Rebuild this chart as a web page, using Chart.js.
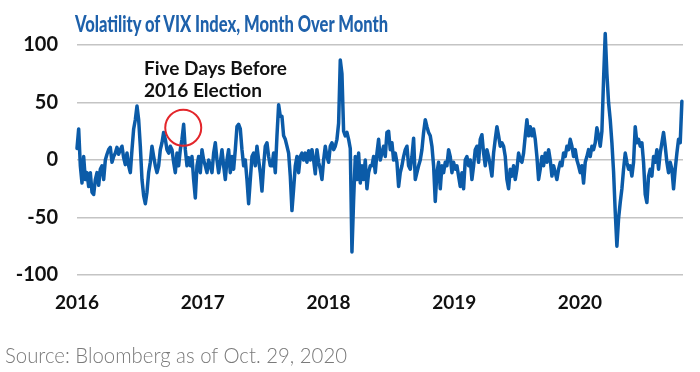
<!DOCTYPE html>
<html>
<head>
<meta charset="utf-8">
<script src="https://cdn.jsdelivr.net/npm/chart.js@4.4.1/dist/chart.umd.min.js"></script>
<style>
html,body{margin:0;padding:0;background:#fff;}
#wrap{position:relative;width:700px;height:372px;overflow:hidden;background:#fff;}
#c{position:absolute;left:0;top:0;}
.txt{position:absolute;left:0;top:0;white-space:nowrap;transform-origin:0 0;font-family:Lato,"Open Sans",sans-serif;line-height:1;}
#title{font-weight:900;font-size:22px;color:#1e61ab;}
.ann{font-weight:700;font-size:19px;color:#111;}
#source{font-weight:300;font-size:22px;color:#7a7a7a;}
</style>
</head>
<body>
<div id="wrap">
  <canvas id="c" width="700" height="372"></canvas>
  <div id="title" class="txt">Volatility of VIX Index, Month Over Month</div>
  <div id="ann1" class="txt ann">Five Days Before</div>
  <div id="ann2" class="txt ann">2016 Election</div>
  <div id="source" class="txt">Source: Bloomberg as of Oct. 29, 2020</div>
</div>
<script>
// ---- data (VIX month-over-month %, ~every 5 days) ----
const vix2016 = [10, 27, -5, -20, 3, -17, -11, -23, -11, -28, -30, -17, -11, -22, -8, -5, -17, 0, 5, 9,
  11, -2, 3, 6, 11, 5, 9, 12, 2, -4, 6, -5, -11, 9, 27, 35, 47, 35, 12, -17,
  -31, -38, -28, -11, -2, 12, 3, -5, -11, -5, 9, 15, 24, 18, 9, 6, 12,
  9, -2, -11, 6, -5, 9, 18, 31, 9, -5, 2, -5, 3, -17, -33, -5, 3, -11, 9];
const vix2017 = [0, -5, -11, 0, -5, -11, 6, 15, 0, -11, -2, 9, -5, -17, 0, 9, -11, 3, -8, 9,
  29, 31, 27, 9, -5, 0, -17, -38, -17, 3, 6, -5, 12, 0, -11, -27, -5, 12, 15, 3, -5,
  -5, 6, -11, 21, 48, 38, 38, 21, 18, 12, 6, -14, -44, -25, -5, 3, -11, 3, 6, 0,
  6, -2, 8, 0, 9, 0, -12, 9, -2, -8, -17, 0, 12, 3];
const vix2018 = [-2, 12, 15, 9, 12, 18, 32, 87, 75, 25, 21, 24, 18, 10, -80, -35, 3, -17, 6, -20,
  -5, -17, 0, -25, -11, -5,
  -5, 3, -11, 6, 18, 0, 6, 12, 3, 24, 25, 9, 15, 0, 6, -2, -23, -11, -5, 3,
  9, 12, -5, -8, 3, 19, -17, -11, -5, 0, 9, 24, 35, 29, 24, 21, 12, -5, -36, -11,
  -2, -25, -5, -11, -2, -5, 9, 3, -11, -2];
const vix2019 = [-8, -5, -14, -23, -11, -25, 0, 3, -5, 0,
  -17, -5, 9, 12, -2, 18, 22, 6, -5, 9, 3, -5, -14, 6, 18, 29, 21, 12, 15, 12,
  3, -17, -25, -8, -14, -5, -17, -8, 6, 0, -2, 6, 21, 35, 21, 29, 21, 27, 18, 3,
  -17, -8, 3, -5, 6, -2, 9, 0, -14, -5, -11, -17, -8, -2, -5, 6, 3, 12, 9, 18,
  12, 3, 9, 0, -5];
const vix2020 = [-11, -5, -20, -2, 3, 9, 3, 12, 9, 15, 28, 21, 12, 25, 70, 110, 75, 50, 35, 15,
  -10, -45, -75, -51, -37, -25, -8, 6, -2, -8, -5, -14, -2, 29, 15, 18, 12, 15, -2, -30,
  -37, -14, -8, -14, 3, -2, 9, -8, 6, 15, 24, 12, -2, -11, -2, -8, -25, -8, 6, 18, 15, 51];
const startYear = 2016;            // first observation, Jan 2016
const obsPerYear = 75.45;          // observations are about 4.85 days apart
const endYear = 2020.82;           // Oct. 29, 2020
const xTickYears = [2016, 2017, 2018, 2019, 2020];
const yTickValues = [-100, -50, 0, 50, 100];
const electionMark = {x: 2016.845, y: 28};   // five days before 2016 election

const series = [].concat(vix2016, vix2017, vix2018, vix2019, vix2020);
const points = series.map((v, i) => ({x: startYear + i / obsPerYear, y: v}));

const circlePlugin = {
  id: 'electionCircle',
  afterDatasetsDraw(chart) {
    const {ctx, scales} = chart;
    const px = scales.x.getPixelForValue(electionMark.x);
    const py = scales.y.getPixelForValue(electionMark.y);
    ctx.save();
    ctx.beginPath();
    ctx.arc(px, py, 18, 0, Math.PI * 2);
    ctx.strokeStyle = '#e3262b';
    ctx.lineWidth = 2;
    ctx.stroke();
    ctx.restore();
  }
};

const tickFont = {family: 'Lato, "Open Sans", sans-serif', weight: 'bold'};

new Chart(document.getElementById('c'), {
  type: 'line',
  data: {datasets: [{
    data: points,
    borderColor: '#0b5ba8',
    borderWidth: 3.5,
    pointRadius: 0,
    tension: 0,
    clip: false,
    borderJoinStyle: 'round',
    borderCapStyle: 'round'
  }]},
  options: {
    animation: false,
    responsive: false,
    events: [],
    layout: {padding: {top: 45, right: 17, left: 0, bottom: 0}},
    plugins: {legend: {display: false}, tooltip: {enabled: false}, title: {display: false}},
    scales: {
      x: {
        type: 'linear', min: startYear, max: endYear,
        grid: {display: false}, border: {display: false},
        afterBuildTicks: s => { s.ticks = xTickYears.map(v => ({value: v})); },
        afterFit: s => { s.height = 97; },
        ticks: {callback: v => String(v), font: Object.assign({size: 19}, tickFont), color: '#111',
                padding: 8, maxRotation: 0, autoSkip: false}
      },
      y: {
        min: -100, max: 100,
        afterBuildTicks: s => { s.ticks = yTickValues.map(v => ({value: v})); },
        afterFit: s => { s.width = 77; },
        grid: {color: '#c4c4c4', lineWidth: 1.5, drawTicks: false},
        border: {display: false},
        ticks: {padding: 19, font: Object.assign({size: 20}, tickFont), color: '#111'}
      }
    }
  },
  plugins: [circlePlugin]
});

function placeText(id, left, baseline, width) {
  const el = document.getElementById(id);
  el.style.left = left + 'px';
  el.style.top = '0px';
  el.style.transform = 'none';
  const m = document.createElement('span');
  m.style.cssText = 'display:inline-block;width:0;height:0;vertical-align:baseline';
  el.appendChild(m);
  const off = m.offsetTop;
  el.removeChild(m);
  el.style.top = (baseline - off) + 'px';
  const w = el.getBoundingClientRect().width;
  el.style.transform = 'scaleX(' + (width / w) + ')';
}
function layoutTexts() {
  placeText('title', 75, 31.5, 313);
  placeText('ann1', 143.5, 75, 143);
  placeText('ann2', 143.5, 97, 118);
  placeText('source', 5, 363, 342);
}
layoutTexts();
if (document.fonts && document.fonts.ready) document.fonts.ready.then(layoutTexts);
</script>
</body>
</html>
